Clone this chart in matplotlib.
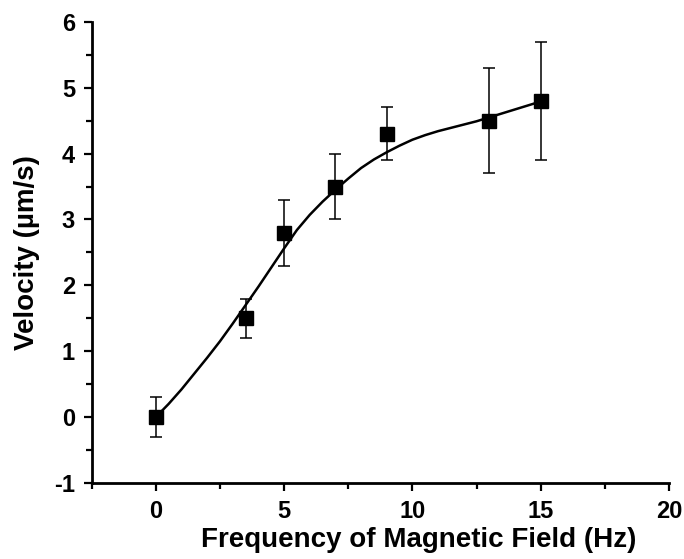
import numpy as np
import matplotlib
matplotlib.use("Agg")
import matplotlib.pyplot as plt
from matplotlib.ticker import MultipleLocator

plt.rcParams['font.family'] = ['Liberation Sans', 'DejaVu Sans']
plt.rcParams['font.weight'] = 'bold'
plt.rcParams['axes.unicode_minus'] = False

# measured points
freq = [0, 3.5, 5, 7, 9, 13, 15]
velocity = [0.0, 1.5, 2.8, 3.5, 4.3, 4.5, 4.8]
err = [0.3, 0.3, 0.5, 0.5, 0.4, 0.8, 0.9]

# fitted curve
fit_x = [0, 0.5, 1, 1.5, 2, 2.5, 3, 3.5, 4, 4.5, 5, 5.5, 6, 6.5, 7, 7.5,
         8, 8.5, 9, 9.5, 10, 10.5, 11, 11.5, 12, 12.5, 13, 13.5, 14, 14.5, 15]
fit_y = [0.0, 0.2, 0.42, 0.66, 0.9, 1.15, 1.42, 1.7, 1.98, 2.27, 2.56, 2.84,
         3.07, 3.27, 3.45, 3.62, 3.78, 3.91, 4.02, 4.12, 4.21, 4.28, 4.34,
         4.39, 4.44, 4.49, 4.55, 4.61, 4.67, 4.73, 4.79]

fig = plt.figure(figsize=(6.84, 5.59), dpi=100)
ax = fig.add_axes([0.134, 0.136, 0.844, 0.825])

ax.plot(fit_x, fit_y, color='black', lw=1.8, zorder=2)
ax.errorbar(freq, velocity, yerr=err, fmt='s', color='black', ms=9.5,
            ecolor='black', elinewidth=1.1, capsize=4.5, capthick=1.1, zorder=3)

ax.set_xlim(-2.5, 20)
ax.set_ylim(-1, 6)
ax.xaxis.set_major_locator(MultipleLocator(5))
ax.xaxis.set_minor_locator(MultipleLocator(2.5))
ax.yaxis.set_major_locator(MultipleLocator(1))
ax.yaxis.set_minor_locator(MultipleLocator(0.5))

for s in ['top', 'right']:
    ax.spines[s].set_visible(False)
for s in ['left', 'bottom']:
    ax.spines[s].set_linewidth(2)

ax.tick_params(which='major', direction='out', length=6, width=1.6, labelsize=17)
ax.tick_params(axis='x', which='major', pad=6)
ax.tick_params(axis='y', which='major', pad=6)
ax.tick_params(which='minor', direction='out', length=4, width=1.6)
for lbl in ax.get_xticklabels() + ax.get_yticklabels():
    lbl.set_fontweight('bold')

ax.set_xlabel("Frequency of Magnetic Field (Hz)", fontsize=20, fontweight='bold')
ax.xaxis.set_label_coords(0.567, -0.095)
ax.set_ylabel("Velocity (\u00b5m/s)", fontsize=20, fontweight='bold', labelpad=10)

fig.savefig("out.png", dpi=100)
